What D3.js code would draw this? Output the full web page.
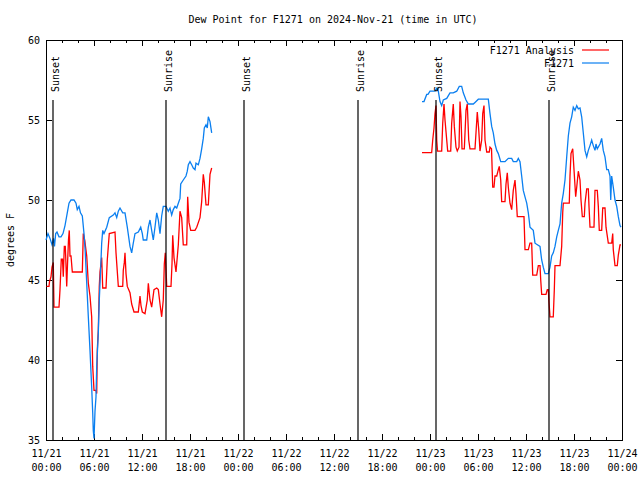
<!DOCTYPE html>
<html><head><meta charset="utf-8">
<script src="https://cdn.jsdelivr.net/npm/d3@7"></script>
<style>
body{margin:0;background:#fff;}
svg{display:block;}
text{font-family:"DejaVu Sans Mono",monospace;font-size:10px;fill:#000;}
</style></head>
<body>
<script>
// hours since 2024-11-21 00:00 UTC
const tickHours = [0,6,12,18,24,30,36,42,48,54,60,66,72];
const tickDates = ["11/21","11/21","11/21","11/21","11/22","11/22","11/22","11/22","11/23","11/23","11/23","11/23","11/24"];
const tickTimes = ["00:00","06:00","12:00","18:00","00:00","06:00","12:00","18:00","00:00","06:00","12:00","18:00","00:00"];
const yTicks = [35,40,45,50,55,60];

const sunEvents = ["Sunset","Sunrise","Sunset","Sunrise","Sunset","Sunrise"];
const sunHours = [0.875,15.0,24.75,39.0,48.75,62.875];

const seriesNames = ["F1271 Analysis","F1271"];

const redHours = [0.06,0.375,0.44,0.625,0.75,0.91,1.0,1.625,1.75,1.91,2.06,2.16,2.29,2.41,2.46,2.59,2.69,2.81,2.91,3.0,3.125,3.29,4.54,4.66,4.84,5.09,5.29,5.5,5.71,5.84,6.0,6.25,6.34,6.41,6.54,6.66,6.75,6.96,7.09,7.5,7.66,7.91,8.625,8.75,9.04,9.59,9.66,9.79,9.875,10.0,10.16,10.5,10.71,11.0,11.54,11.75,11.875,12.04,12.375,12.66,12.79,13.0,13.21,13.5,13.84,14.04,14.25,14.46,14.66,14.79,14.91,15.0,15.09,15.625,15.75,15.84,16.0,16.25,16.54,16.75,16.96,17.16,17.59,17.71,17.875,18.09,18.625,18.84,19.25,19.46,19.66,19.79,20.0,20.29,20.5,20.71,
 30,
 47.0,48.21,48.34,48.5,48.625,48.75,48.84,48.94,49.46,49.59,49.75,49.875,50.09,50.21,50.59,50.71,50.91,51.04,51.25,51.41,51.625,51.75,51.875,52.0,52.29,52.5,52.66,52.84,53.0,53.625,53.75,53.91,54.09,54.25,54.46,54.59,54.75,54.875,55.09,55.41,55.5,55.69,55.84,56.0,56.125,56.34,56.54,56.66,56.84,56.96,57.375,57.5,57.66,57.79,58.0,58.21,58.41,58.625,58.75,58.91,59.75,59.875,60.29,60.5,60.71,60.84,61.34,61.54,61.75,61.84,61.96,62.5,62.66,62.79,62.875,63.0,63.41,63.54,63.625,64.25,64.46,64.59,64.66,65.41,65.5,65.625,65.84,66.0,66.21,66.34,66.54,66.75,66.875,67.04,67.29,67.375,67.59,67.79,67.875,68.0,68.5,68.625,68.91,69.04,69.16,69.46,69.59,69.875,70.0,70.29,70.71,70.84,70.91,71.125,71.41,71.54,71.75,71.875];
const redDew = [44.6,44.6,44.9,45.2,45.8,46.1,43.3,43.3,44.4,46.3,46.3,45.2,47.1,47.1,46.5,44.6,46.0,47.5,48.1,46.5,46.5,45.5,45.5,47.9,47.5,46.5,44.8,44.0,42.7,39.6,38.1,38.1,37.9,40.6,41.9,44.6,45.5,46.4,44.5,44.5,46.25,47.9,48.0,46.7,44.6,44.6,45.6,46.1,46.7,45.4,44.6,44.2,43.5,43.0,43.0,44.0,43.4,43.0,42.9,43.75,44.8,43.75,43.3,44.4,44.5,44.4,43.5,42.7,43.75,46.0,46.7,45.7,44.6,44.6,46.0,47.8,46.4,45.5,47.2,49.3,48.9,47.2,47.2,50.2,48.6,48.1,48.1,48.3,48.9,49.9,51.6,51.1,49.7,49.7,51.6,52.0,
 null,
 52.96,52.96,53.75,54.5,55.4,55.9,53.75,53.06,53.06,54.8,56.0,55.0,53.75,53.06,53.06,54.8,56.0,54.6,53.3,53.06,53.3,56.15,55.2,53.2,53.2,55.6,56.0,53.75,53.2,53.2,54.2,55.5,54.4,53.06,53.75,55.4,55.9,53.75,53.0,53.0,53.3,53.2,50.8,50.8,51.5,51.5,51.9,52.1,51.25,49.9,49.9,51.0,51.7,50.8,49.8,49.4,50.6,51.25,50.4,48.96,48.96,46.9,46.9,47.3,47.3,45.3,45.3,45.9,45.9,45.0,44.1,44.1,44.4,44.4,43.6,42.7,42.7,44.4,45.9,45.9,47.1,49.2,49.8,49.8,51.5,52.9,53.2,51.9,50.2,50.8,51.8,51.25,50.0,48.96,48.96,49.8,50.7,50.7,49.6,48.3,48.3,50.6,50.6,49.6,48.1,48.1,49.5,49.5,48.3,47.3,47.3,47.9,46.9,45.9,45.9,46.56,47.2,47.2];

const blueHours = [0,0.25,0.5,0.75,0.94,1.06,1.21,1.375,1.625,1.875,2.125,2.375,2.625,2.875,3.125,3.5,3.75,3.91,4.125,4.31,4.54,4.75,4.9,5.09,5.29,5.5,5.71,5.84,5.91,6.0,6.125,6.25,6.34,6.54,6.66,6.84,6.96,7.09,7.25,7.59,7.91,8.41,8.625,8.84,9.04,9.25,9.59,9.875,10.16,10.5,10.71,10.91,11.125,11.54,11.84,12.04,12.16,12.59,12.79,13.0,13.21,13.41,13.625,13.84,14.04,14.25,14.46,14.66,15.0,15.29,15.5,15.71,15.91,16.125,16.34,16.54,16.75,16.84,17.16,17.5,17.66,17.79,18.0,18.21,18.41,18.625,18.75,19.04,19.25,19.46,19.66,19.79,20.0,20.16,20.29,20.5,20.71,
 30,
 47.0,47.25,47.59,47.75,48.0,48.625,48.875,49.04,49.25,49.46,49.66,50.09,50.5,50.91,51.34,51.66,51.96,52.16,52.5,52.79,53.41,53.625,54.04,55.29,55.5,55.71,55.91,56.125,56.34,56.54,56.84,57.375,57.79,58.21,58.41,58.84,59.04,59.25,59.46,59.66,59.875,60.09,60.29,60.5,60.91,61.125,61.75,61.96,62.16,62.375,62.79,63.0,63.21,63.41,63.625,63.84,64.04,64.25,64.46,64.66,64.875,65.09,65.29,65.5,65.71,65.91,66.125,66.34,66.54,66.75,66.96,67.16,67.375,67.59,67.79,68.0,68.21,68.41,68.625,68.75,68.91,69.25,69.46,69.66,69.875,70.09,70.29,70.5,70.59,70.71,70.91,71.125,71.34,71.54,71.75,71.875];
const blueDew = [47.5,47.9,47.6,47.2,47.6,47.1,47.9,48.0,47.7,47.7,47.9,48.4,49.1,49.8,50.0,50.0,49.8,49.4,49.6,49.2,49.0,47.9,46.8,44.8,42.7,40.6,38.3,36.7,35.6,35.1,36.8,37.7,39.6,41.7,43.75,45.8,47.3,48.1,47.9,48.3,48.9,49.06,49.2,48.9,49.3,49.5,49.2,49.2,48.3,47.1,46.7,47.3,47.9,48.0,48.3,47.9,47.5,47.5,48.3,48.75,48.1,47.5,48.3,49.2,48.75,47.9,49.0,49.6,49.6,49.3,49.5,49.06,49.4,49.6,49.5,49.8,50.1,51.0,51.25,51.5,51.8,52.2,52.4,52.2,52.0,51.9,52.3,52.2,52.6,53.2,53.85,54.5,54.7,54.5,55.2,54.9,54.2,
 null,
 56.15,56.15,56.6,56.6,56.8,56.8,57.0,56.8,56.15,55.9,56.25,56.35,56.7,56.7,56.8,57.1,57.1,56.7,56.25,56.0,56.0,56.1,56.3,56.3,55.4,54.6,54.2,53.5,53.1,52.9,52.4,52.4,52.6,52.6,52.4,52.4,52.6,52.4,51.5,50.6,50.2,49.8,49.2,48.3,48.1,47.3,47.1,46.25,45.8,45.4,45.4,45.8,46.5,46.7,47.1,47.7,48.1,48.5,49.8,50.4,51.25,52.7,54.0,54.8,55.2,55.8,55.6,55.9,55.7,55.75,55.2,54.2,53.1,52.7,53.1,53.4,53.75,53.4,53.1,53.5,53.2,53.5,53.85,53.1,52.7,51.9,51.9,51.5,50.0,51.5,50.8,50.0,49.6,48.96,48.4,48.3];

const W = 640, H = 480;
const m = {l:46, r:18, t:40, b:40};
const svg = d3.select("body").append("svg").attr("width",W).attr("height",H);

const x = d3.scaleLinear().domain([0,72]).range([m.l, W-m.r]);
const y = d3.scaleLinear().domain([35,60]).range([H-m.b, m.t]);

// title
svg.append("text").attr("x",333).attr("y",23).attr("text-anchor","middle")
  .text("Dew Point for F1271 on 2024-Nov-21 (time in UTC)");
// y label
svg.append("text").attr("transform","translate(14,240) rotate(-90)").attr("text-anchor","middle")
  .text("degrees F");

const minorHours = d3.range(0,73,2).filter(h => h % 6 !== 0);

function axisG(gen, tx, ty){
  const g = svg.append("g").attr("transform",`translate(${tx},${ty})`).call(gen);
  g.select(".domain").remove();
  g.selectAll("line").attr("stroke","#000").attr("shape-rendering","crispEdges");
  return g;
}
// bottom axis (major, labeled)
const gb = axisG(d3.axisBottom(x).tickValues(tickHours).tickSize(-6).tickPadding(0).tickFormat(""), 0, H-m.b);
gb.selectAll(".tick").each(function(d,i){
  const t = d3.select(this).append("text").attr("text-anchor","middle").attr("y",17);
  t.append("tspan").attr("x",0).text(tickDates[i]);
  t.append("tspan").attr("x",0).attr("dy",14).text(tickTimes[i]);
});
axisG(d3.axisBottom(x).tickValues(minorHours).tickSize(-3).tickFormat(""), 0, H-m.b);
axisG(d3.axisTop(x).tickValues(tickHours).tickSize(-6).tickFormat(""), 0, m.t);
axisG(d3.axisTop(x).tickValues(minorHours).tickSize(-3).tickFormat(""), 0, m.t);
const gl = axisG(d3.axisLeft(y).tickValues(yTicks).tickSize(-6).tickPadding(0).tickFormat(d3.format("d")), m.l, 0);
gl.selectAll("text").attr("x",-6).attr("dy","0.35em").style("font-size","10px").style("font-family","DejaVu Sans Mono");
axisG(d3.axisRight(y).tickValues(yTicks).tickSize(-6).tickFormat(""), W-m.r, 0);

// frame
svg.append("rect").attr("x",m.l).attr("y",m.t).attr("width",W-m.l-m.r).attr("height",H-m.t-m.b)
  .attr("fill","none").attr("stroke","#000").attr("shape-rendering","crispEdges");

const line = d3.line().defined(d => d[1] != null).x(d => x(d[0])).y(d => y(d[1]));
const redData = redHours.map((h,i)=>[h, redDew[i]]);
const blueData = blueHours.map((h,i)=>[h, blueDew[i]]);
const colors = ["#ff0000","#0a7ff0"];

svg.append("path").datum(redData).attr("d",line).attr("fill","none").attr("stroke",colors[0]).attr("stroke-width",1.3);
svg.append("path").datum(blueData).attr("d",line).attr("fill","none").attr("stroke",colors[1]).attr("stroke-width",1.3);

// sunrise/sunset markers
const sg = svg.append("g");
sunHours.forEach((h,i)=>{
  sg.append("line").attr("x1",x(h)).attr("x2",x(h)).attr("y1",y(35+25*0.85)).attr("y2",y(35))
    .attr("stroke","#000").attr("stroke-width",1.2);
  sg.append("text").attr("transform",`translate(${x(h)+6},${y(35+25*0.85)-8}) rotate(-90)`)
    .attr("text-anchor","start").text(sunEvents[i]);
});

// legend
seriesNames.forEach((n,i)=>{
  const ly = 50 + i*13;
  svg.append("text").attr("x",574).attr("y",ly).attr("dy","0.35em").attr("text-anchor","end").text(n);
  svg.append("line").attr("x1",582).attr("x2",609).attr("y1",ly).attr("y2",ly)
    .attr("stroke",colors[i]).attr("stroke-width",1.2);
});
</script>
</body></html>
